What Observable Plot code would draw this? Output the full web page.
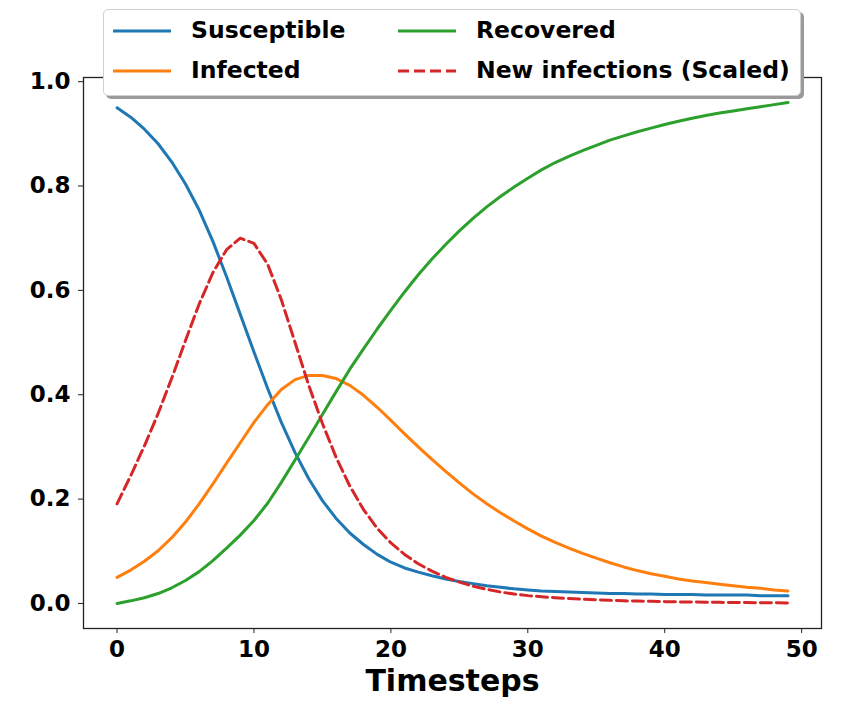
<!DOCTYPE html>
<html>
<head>
<meta charset="utf-8">
<script src="https://cdn.jsdelivr.net/npm/d3@7"></script>
<script src="https://cdn.jsdelivr.net/npm/@observablehq/plot@0.6"></script>
<style>
  html, body { margin: 0; padding: 0; background: #fff; }
  #wrap { position: relative; width: 841px; height: 707px; font-family: "DejaVu Sans", sans-serif; }
  #legend {
    position: absolute; left: 103px; top: 9px; width: 698px; height: 87px;
    background: #fff; border: 1px solid #d0d0d0; border-radius: 5px;
    box-shadow: 3px 3px 0 #9a9a9a; box-sizing: border-box;
  }
  .item { position: absolute; font-weight: bold; font-size: 23.5px; color: #000; line-height: 1; white-space: nowrap; }
</style>
</head>
<body>
<div id="wrap"></div>
<script>
const timesteps = [0,1,2,3,4,5,6,7,8,9,10,11,12,13,14,15,16,17,18,19,20,21,22,23,24,25,26,27,28,29,30,31,32,33,34,35,36,37,38,39,40,41,42,43,44,45,46,47,48,49];
const susceptible = [0.950,0.932,0.909,0.881,0.846,0.804,0.754,0.694,0.626,0.554,
  0.482,0.412,0.347,0.289,0.239,0.197,0.163,0.135,0.113,0.094,
  0.079,0.068,0.060,0.053,0.047,0.042,0.038,0.034,0.031,0.028,
  0.026,0.024,0.023,0.022,0.021,0.020,0.019,0.019,0.018,0.018,
  0.017,0.017,0.017,0.016,0.016,0.016,0.016,0.015,0.015,0.015];
const infected = [0.050,0.064,0.081,0.101,0.126,0.156,0.191,0.229,0.269,0.308,
  0.347,0.381,0.410,0.429,0.437,0.437,0.431,0.418,0.399,0.376,
  0.351,0.325,0.300,0.276,0.253,0.231,0.210,0.191,0.174,0.158,
  0.143,0.129,0.117,0.106,0.096,0.087,0.078,0.070,0.063,0.057,
  0.052,0.047,0.043,0.040,0.037,0.034,0.031,0.029,0.026,0.024];
const recovered = [0.000,0.005,0.011,0.019,0.030,0.044,0.061,0.082,0.106,0.131,
  0.159,0.192,0.232,0.275,0.318,0.362,0.406,0.449,0.488,0.526,
  0.562,0.597,0.630,0.660,0.688,0.714,0.738,0.760,0.780,0.798,
  0.815,0.831,0.845,0.857,0.868,0.878,0.888,0.896,0.904,0.911,
  0.918,0.924,0.930,0.935,0.940,0.944,0.948,0.952,0.956,0.960];
const newInfectionsScaled = [0.191,0.245,0.302,0.364,0.432,0.504,0.574,0.634,0.678,0.700,
  0.690,0.650,0.582,0.500,0.418,0.345,0.280,0.225,0.180,0.144,
  0.116,0.094,0.076,0.062,0.050,0.041,0.033,0.027,0.022,0.018,
  0.015,0.013,0.011,0.0095,0.008,0.007,0.006,0.005,0.0045,0.004,
  0.0035,0.003,0.0027,0.0024,0.0021,0.0018,0.0016,0.0014,0.0012,0.001];
const seriesNames = ["Susceptible", "Infected", "Recovered", "New infections (Scaled)"];
const seriesColors = ["#1f77b4", "#ff7f0e", "#2ca02c", "#d62728"];
const xTicks = [0, 10, 20, 30, 40, 50];
const yTicks = [0.0, 0.2, 0.4, 0.6, 0.8, 1.0];
const xLabel = "Timesteps";

const seriesValues = [susceptible, infected, recovered, newInfectionsScaled];
const rows = seriesNames.map((name, i) => timesteps.map((t, j) => ({t, v: seriesValues[i][j], name})));

const font = "DejaVu Sans";
const chart = Plot.plot({
  width: 841,
  height: 707,
  marginLeft: 83,
  marginRight: 20,
  marginTop: 77,
  marginBottom: 79,
  style: {fontFamily: font, background: "transparent", overflow: "visible"},
  x: {domain: [-2.45, 51.45]},
  y: {domain: [-0.048, 1.008]},
  marks: [
    Plot.frame({stroke: "#222", strokeWidth: 1.3}),
    Plot.axisX(xTicks, {tickSize: 5, tickPadding: 7, fontSize: 23, fontWeight: "bold", label: null, stroke: "#222", color: "#000"}),
    Plot.axisY(yTicks, {tickSize: 5, tickPadding: 8, fontSize: 23, fontWeight: "bold", label: null, tickFormat: d3.format(".1f"), stroke: "#222", color: "#000"}),
    ...rows.slice(0, 3).map((data, i) => Plot.line(data, {x: "t", y: "v", stroke: seriesColors[i], strokeWidth: 3})),
    Plot.line(rows[3], {x: "t", y: "v", stroke: seriesColors[3], strokeWidth: 3, strokeDasharray: "11,5"}),
    Plot.text([xLabel], {frameAnchor: "bottom", dy: 62, fontSize: 30, fontWeight: "bold", fill: "#000"})
  ]
});

const wrap = document.getElementById("wrap");
wrap.appendChild(chart);
chart.style.position = "absolute";
chart.style.left = "0";
chart.style.top = "0";

// legend
const legend = document.createElement("div");
legend.id = "legend";
wrap.appendChild(legend);
const positions = [
  {lx: 9, tx: 87, cy: 21},
  {lx: 9, tx: 87, cy: 61},
  {lx: 294, tx: 372, cy: 21},
  {lx: 294, tx: 372, cy: 61}
];
seriesNames.forEach((name, i) => {
  const p = positions[i];
  const sw = document.createElementNS("http://www.w3.org/2000/svg", "svg");
  sw.setAttribute("width", 60); sw.setAttribute("height", 10);
  sw.style.position = "absolute";
  sw.style.left = p.lx + "px"; sw.style.top = (p.cy - 5) + "px";
  const ln = document.createElementNS("http://www.w3.org/2000/svg", "line");
  ln.setAttribute("x1", 0); ln.setAttribute("x2", 58); ln.setAttribute("y1", 5); ln.setAttribute("y2", 5);
  ln.setAttribute("stroke", seriesColors[i]); ln.setAttribute("stroke-width", 3);
  if (i === 3) ln.setAttribute("stroke-dasharray", "11,5");
  sw.appendChild(ln);
  legend.appendChild(sw);
  const tx = document.createElement("div");
  tx.className = "item";
  tx.textContent = name;
  tx.style.left = p.tx + "px";
  tx.style.top = (p.cy - 12) + "px";
  legend.appendChild(tx);
});
</script>
</body>
</html>
